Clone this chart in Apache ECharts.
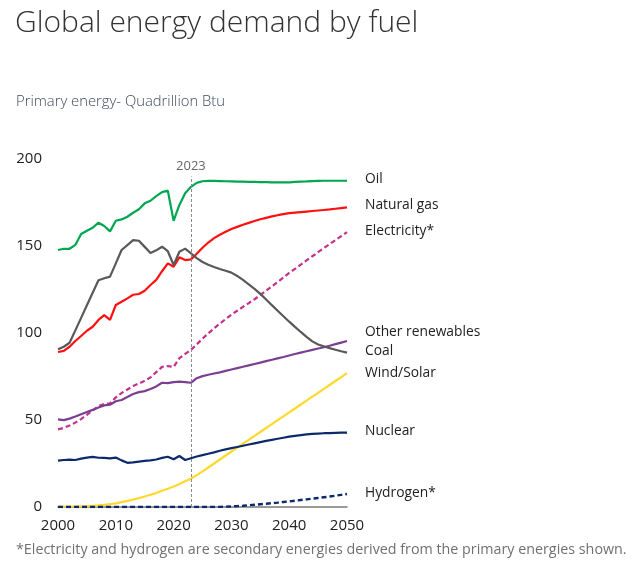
<!DOCTYPE html>
<html>
<head>
<meta charset="utf-8">
<script src="https://cdn.jsdelivr.net/npm/echarts@6/dist/echarts.min.js"></script>
<style>
html,body{margin:0;padding:0;background:#fff;}
#chart{width:640px;height:566px;}
</style>
</head>
<body>
<div id="chart"></div>
<script>
var years = [];
for (var y = 2000; y <= 2050; y++) years.push(y);

var oil = [147.7,148.4,148.4,150.6,156.9,158.8,160.5,163.4,161.5,158.4,164.5,165.3,166.8,169.1,171.1,174.5,176,178.7,181,181.8,164.5,173.6,180.3,184,186.3,187.2,187.4,187.4,187.3,187.2,187.1,187,187,186.9,186.8,186.7,186.7,186.6,186.6,186.6,186.6,186.8,187,187.1,187.3,187.4,187.5,187.5,187.5,187.5,187.5];
var naturalGas = [89.1,89.7,92.1,95.4,98.3,101.3,103.6,107.5,110.3,107.5,116.1,118,119.9,122,122.4,124.3,127.6,130.5,135.5,140,138.1,143.5,141.9,142.3,145.5,149,152,154.5,156.5,158.2,159.8,161,162.2,163.3,164.4,165.4,166.2,167,167.7,168.3,168.9,169.2,169.5,169.8,170.1,170.4,170.7,171,171.4,171.8,172.2];
var electricity = [44.6,45.5,46.8,48.5,50.5,53,55.5,58,59.3,59.5,63,65.5,67.5,69.5,71,72.5,74.5,77.5,80.5,81,80.5,85.5,88,90.3,93.5,96.7,99.8,102.7,105.4,108,110.5,112.8,115,117.2,119.4,121.8,124.3,126.8,129.3,131.9,134.5,136.9,139.3,141.7,144.1,146.5,148.8,151.1,153.4,155.7,158];
var otherRenewables = [50.4,49.9,50.8,52,53.3,54.6,55.8,57.2,58.4,58.8,60.8,61.5,63.2,64.9,66,66.6,67.8,69.3,71.4,71.2,71.8,72,71.8,71.4,74,75.2,76,76.7,77.4,78.2,79,79.8,80.6,81.4,82.2,83,83.8,84.6,85.4,86.2,87.1,87.9,88.7,89.5,90.3,91.1,91.8,92.7,93.6,94.5,95.4];
var coal = [90.6,92.1,94.4,101.5,108.7,115.9,123.1,130.3,131.5,132.4,140,147.7,150.5,153.4,153,149.5,146,147.5,149.6,147,139.1,146.7,148.5,145.8,143,140.8,139.2,137.9,136.8,135.8,134.7,132.8,130.5,128,125.4,122.5,119.3,116,112.8,109.6,106.5,103.5,100.6,97.8,95.2,93.4,92.3,91.3,90.4,89.5,88.7];
var windSolar = [0.2,0.2,0.3,0.3,0.4,0.5,0.7,0.9,1.2,1.6,2.1,2.8,3.5,4.3,5.1,6,7,8,9.3,10.5,11.8,13.2,14.8,16.3,18.3,20.5,22.7,25,27.3,29.6,31.9,34.1,36.4,38.6,40.9,43.1,45.4,47.6,49.9,52.1,54.4,56.6,58.9,61.1,63.4,65.6,67.9,70.1,72.4,74.6,76.9];
var nuclear = [26.6,27,27.2,27,27.8,28.4,28.8,28.3,28.2,27.9,28.4,26.8,25.4,25.6,26.1,26.5,26.8,27.3,28.2,28.9,27.4,29.3,27,28,29,29.8,30.6,31.4,32.3,33.1,33.8,34.5,35.2,35.9,36.6,37.3,38,38.6,39.2,39.8,40.4,40.9,41.3,41.7,42,42.2,42.4,42.5,42.6,42.7,42.8];
var hydrogen = [0,0,0,0,0,0,0,0,0,0,0,0,0,0,0,0,0,0,0,0,0,0,0,0,0,0,0,0,0.1,0.2,0.3,0.5,0.7,1,1.3,1.6,1.9,2.2,2.5,2.9,3.2,3.6,4,4.4,4.8,5.2,5.6,6,6.5,7,7.5];

var seriesNames = ['Oil','Natural gas','Electricity*','Other renewables','Coal','Wind/Solar','Nuclear','Hydrogen*'];
var yTicks = [0, 50, 100, 150, 200];
var xTicks = [2000, 2010, 2020, 2030, 2040, 2050];
var markerYear = 2023;

function pairs(vals){ return years.map(function(yr,i){ return [yr, vals[i]]; }); }

var FONT = '"Open Sans", "Noto Sans", sans-serif';

function mk(name, vals, color, dashed, dy){
  return {
    name: name, type: 'line', data: pairs(vals), showSymbol: false, symbol: 'none',
    smooth: false,
    lineStyle: { color: color, width: 2.2, type: dashed ? [5,3] : 'solid' },
    itemStyle: { color: color },
    endLabel: { show: true, formatter: name, color: '#222', fontSize: 13.8, fontFamily: FONT, offset: [10, dy || 0] },
    emphasis: { disabled: true },
    z: 3
  };
}

var series = [
  mk(seriesNames[0], oil, '#00a651', false, -2),
  mk(seriesNames[1], naturalGas, '#ff1010', false, -2),
  mk(seriesNames[2], electricity, '#c4318d', true, -1),
  mk(seriesNames[3], otherRenewables, '#7b3f91', false, -9),
  mk(seriesNames[4], coal, '#595959', false, -2),
  mk(seriesNames[5], windSolar, '#ffd92a', false, 0),
  mk(seriesNames[6], nuclear, '#0c2a6b', false, -1),
  mk(seriesNames[7], hydrogen, '#0c2a6b', true, -1)
];
series[7].lineStyle.width = 2.4;
series[0].markLine = {
  silent: true, symbol: ['none','none'],
  lineStyle: { color: '#8a8a8a', type: [3,2], width: 1 },
  label: { show: true, position: 'end', formatter: String(markerYear), color: '#666', fontSize: 13, fontFamily: FONT, distance: 4 },
  data: [[{ coord: [markerYear, 0] }, { coord: [markerYear, 190] }]]
};

var chart = echarts.init(document.getElementById('chart'), null, { renderer: 'canvas' });
chart.setOption({
  animation: false,
  backgroundColor: '#fff',
  title: [
    { text: 'Global energy demand by fuel', left: 10, top: 3,
      textStyle: { fontFamily: FONT, fontWeight: 300, fontSize: 30, color: '#333' } },
    { text: 'Primary energy- Quadrillion Btu', left: 11, top: 89,
      textStyle: { fontFamily: FONT, fontWeight: 300, fontSize: 14.8, color: '#3e4a5a' } },
    { text: '*Electricity and hydrogen are secondary energies derived from the primary energies shown.', left: 11, top: 538,
      textStyle: { fontFamily: FONT, fontWeight: 'normal', fontSize: 14.3, color: '#707070' } }
  ],
  grid: { left: 58, right: 293, top: 159, bottom: 59, containLabel: false },
  xAxis: {
    type: 'value', min: xTicks[0], max: xTicks[xTicks.length-1], interval: 10,
    axisLine: { show: true, onZero: true, lineStyle: { color: '#7a7a7a', width: 1.5 } },
    axisTick: { show: false }, splitLine: { show: false },
    axisLabel: { color: '#222', fontSize: 15, fontFamily: FONT, margin: 11,
      formatter: function(v){ return xTicks.indexOf(v) >= 0 ? String(v) : ''; } }
  },
  yAxis: {
    type: 'value', min: yTicks[0], max: yTicks[yTicks.length-1], interval: 50,
    axisLine: { show: false }, axisTick: { show: false }, splitLine: { show: false },
    axisLabel: { color: '#222', fontSize: 15, fontFamily: FONT, margin: 16 }
  },
  series: series
});
</script>
</body>
</html>
